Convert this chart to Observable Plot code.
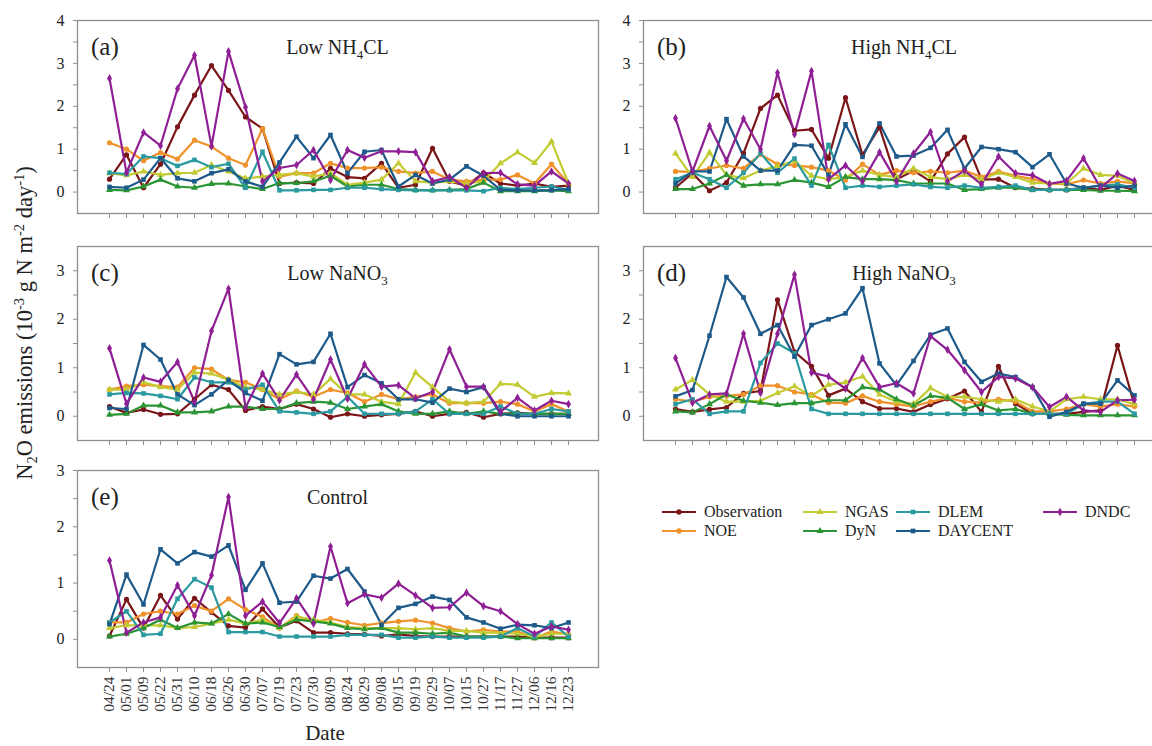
<!DOCTYPE html>
<html><head><meta charset="utf-8">
<script src="https://cdn.jsdelivr.net/npm/d3@7"></script>
<script src="https://cdn.jsdelivr.net/npm/@observablehq/plot@0.6"></script>
<style>
html,body{margin:0;padding:0;background:#fff;overflow:hidden;}
#chart{position:relative;width:1152px;height:746px;overflow:hidden;font-family:"Liberation Serif","Times New Roman",serif;}
#chart svg{position:absolute;}
</style></head><body><div id="chart"></div>
<script>
const dates = ["04/24","05/01","05/09","05/22","05/31","06/10","06/18","06/26","06/30","07/07","07/19","07/23","07/30","08/09","08/24","08/29","09/08","09/15","09/19","09/29","10/07","10/15","10/27","11/17","11/27","12/06","12/16","12/23"];
const seriesNames = ["Observation","NOE","NGAS","DyN","DLEM","DAYCENT","DNDC"];
const seriesColors = ["#7a1518","#f0922b","#c3cb32","#2b9534","#2a9aa0","#1d5a8a","#8f1f94"];
const seriesSymbols = ["circle","circle","triangle","triangle","square","square","diamond"];
const yTicksA = [0,1,2,3,4];
const yTicksC = [0,1,2,3];

const lowNH4CL = {
  Observation: [0.3,0.87,0.1,0.65,1.52,2.26,2.95,2.37,1.75,1.48,0.2,0.22,0.2,0.55,0.35,0.32,0.67,0.1,0.17,1.02,0.25,0.15,0.45,0.2,0.15,0.2,0.12,0.15],
  NOE: [1.15,1.0,0.73,0.92,0.77,1.21,1.06,0.79,0.63,1.48,0.36,0.44,0.44,0.67,0.56,0.56,0.58,0.48,0.44,0.48,0.29,0.25,0.29,0.29,0.4,0.2,0.65,0.2],
  NGAS: [0.44,0.39,0.48,0.4,0.44,0.45,0.63,0.48,0.32,0.36,0.4,0.44,0.36,0.44,0.17,0.22,0.29,0.67,0.25,0.22,0.25,0.2,0.25,0.67,0.93,0.68,1.18,0.2],
  DyN: [0.05,0.04,0.13,0.29,0.13,0.1,0.19,0.2,0.13,0.07,0.21,0.21,0.25,0.38,0.13,0.17,0.17,0.07,0.05,0.04,0.05,0.07,0.22,0.02,0.02,0.02,0.04,0.02],
  DLEM: [0.45,0.42,0.83,0.79,0.61,0.75,0.58,0.66,0.1,0.94,0.04,0.04,0.05,0.05,0.1,0.1,0.07,0.05,0.04,0.04,0.04,0.04,0.02,0.1,0.07,0.1,0.13,0.05],
  DAYCENT: [0.12,0.1,0.29,0.79,0.32,0.25,0.44,0.53,0.25,0.12,0.69,1.29,0.79,1.33,0.44,0.94,0.98,0.13,0.4,0.2,0.29,0.6,0.38,0.05,0.04,0.04,0.04,0.07],
  DNDC: [2.65,0.45,1.39,1.08,2.41,3.19,1.07,3.28,1.98,0.25,0.56,0.63,0.98,0.28,0.98,0.8,0.95,0.95,0.93,0.25,0.35,0.1,0.44,0.45,0.18,0.15,0.48,0.2]
};
const highNH4CL = {
  Observation: [0.1,0.44,0.03,0.22,0.9,1.95,2.26,1.43,1.46,0.79,2.2,0.87,1.51,0.29,0.5,0.25,0.89,1.28,0.29,0.3,0.1,0.08,0.05,0.05,0.1,0.05,0.15,0.05],
  NOE: [0.48,0.47,0.55,0.62,0.55,0.88,0.65,0.62,0.58,0.5,0.28,0.65,0.4,0.5,0.45,0.48,0.45,0.5,0.35,0.48,0.38,0.3,0.2,0.18,0.28,0.2,0.25,0.2],
  NGAS: [0.9,0.35,0.92,0.4,0.32,0.5,0.6,0.72,0.38,0.3,0.35,0.5,0.4,0.35,0.55,0.35,0.3,0.4,0.3,0.45,0.35,0.22,0.2,0.2,0.55,0.4,0.38,0.2],
  DyN: [0.07,0.07,0.2,0.4,0.15,0.18,0.18,0.28,0.22,0.12,0.35,0.3,0.3,0.28,0.2,0.2,0.2,0.05,0.07,0.1,0.1,0.05,0.05,0.05,0.05,0.03,0.03,0.02],
  DLEM: [0.3,0.45,0.3,0.1,0.45,0.9,0.45,0.78,0.15,1.1,0.1,0.15,0.12,0.15,0.18,0.12,0.1,0.15,0.1,0.12,0.15,0.05,0.05,0.05,0.1,0.15,0.18,0.1],
  DAYCENT: [0.2,0.48,0.48,1.7,0.83,0.5,0.5,1.1,1.08,0.4,1.58,0.82,1.6,0.83,0.85,1.03,1.45,0.55,1.05,1.0,0.93,0.58,0.88,0.2,0.1,0.15,0.1,0.15],
  DNDC: [1.72,0.48,1.54,0.73,1.71,1.0,2.78,1.35,2.82,0.3,0.62,0.25,0.93,0.25,0.9,1.4,0.25,0.5,0.18,0.83,0.44,0.39,0.19,0.26,0.79,0.1,0.43,0.26]
};
const lowNaNO3 = {
  Observation: [0.2,0.07,0.14,0.04,0.05,0.35,0.65,0.55,0.12,0.2,0.15,0.25,0.15,-0.02,0.05,0.0,0.03,0.05,0.1,0.0,0.05,0.08,-0.02,0.05,0.07,0.05,0.05,0.05],
  NOE: [0.55,0.62,0.65,0.62,0.6,1.0,0.97,0.75,0.7,0.55,0.35,0.52,0.4,0.55,0.48,0.3,0.45,0.35,0.4,0.45,0.27,0.27,0.27,0.3,0.25,0.1,0.25,0.1],
  NGAS: [0.55,0.55,0.7,0.6,0.55,0.9,0.88,0.75,0.6,0.55,0.45,0.5,0.45,0.77,0.45,0.45,0.3,0.25,0.9,0.6,0.3,0.27,0.3,0.67,0.65,0.4,0.48,0.47],
  DyN: [0.03,0.05,0.22,0.22,0.08,0.08,0.1,0.2,0.2,0.15,0.15,0.27,0.3,0.28,0.15,0.2,0.25,0.1,0.05,0.05,0.1,0.05,0.1,0.05,0.05,0.05,0.05,0.05],
  DLEM: [0.45,0.48,0.47,0.42,0.35,0.8,0.7,0.7,0.55,0.65,0.1,0.08,0.05,0.1,0.4,0.05,0.05,0.05,0.1,0.35,0.05,0.05,0.05,0.2,0.05,0.05,0.15,0.1],
  DAYCENT: [0.17,0.15,1.47,1.17,0.45,0.23,0.45,0.75,0.48,0.32,1.28,1.07,1.12,1.7,0.6,0.85,0.68,0.35,0.35,0.28,0.57,0.5,0.6,0.05,0.0,0.0,0.0,0.0],
  DNDC: [1.4,0.26,0.8,0.71,1.12,0.3,1.76,2.63,0.18,0.88,0.33,0.86,0.35,1.17,0.36,1.07,0.61,0.64,0.37,0.5,1.38,0.61,0.61,0.09,0.38,0.12,0.32,0.25]
};
const highNaNO3 = {
  Observation: [0.15,0.09,0.14,0.18,0.47,0.52,2.4,1.33,1.03,0.43,0.57,0.3,0.16,0.16,0.09,0.24,0.36,0.52,0.09,1.03,0.26,0.05,0.05,0.05,0.09,0.12,1.46,0.23],
  NOE: [0.35,0.3,0.4,0.42,0.45,0.63,0.63,0.5,0.45,0.28,0.27,0.42,0.3,0.25,0.2,0.3,0.38,0.3,0.28,0.35,0.3,0.1,0.1,0.15,0.25,0.2,0.25,0.2],
  NGAS: [0.55,0.75,0.45,0.3,0.3,0.32,0.48,0.62,0.42,0.65,0.7,0.82,0.45,0.3,0.25,0.58,0.4,0.4,0.35,0.3,0.35,0.2,0.1,0.35,0.4,0.35,0.35,0.25],
  DyN: [0.1,0.08,0.25,0.45,0.32,0.28,0.23,0.27,0.27,0.33,0.33,0.6,0.55,0.35,0.22,0.42,0.38,0.15,0.25,0.12,0.15,0.05,0.05,0.03,0.02,0.02,0.02,0.02],
  DLEM: [0.25,0.35,0.05,0.1,0.1,1.1,1.5,1.3,0.15,0.05,0.05,0.05,0.05,0.05,0.05,0.05,0.05,0.05,0.05,0.05,0.05,0.05,0.05,0.05,0.25,0.3,0.3,0.05],
  DAYCENT: [0.41,0.54,1.66,2.87,2.45,1.7,1.88,1.23,1.88,2.0,2.12,2.64,1.09,0.64,1.14,1.68,1.81,1.12,0.71,0.88,0.81,0.6,-0.01,0.09,0.26,0.26,0.74,0.43],
  DNDC: [1.2,0.28,0.45,0.47,1.7,0.48,1.7,2.92,0.9,0.82,0.57,1.2,0.6,0.68,0.47,1.65,1.37,0.95,0.5,0.81,0.78,0.6,0.19,0.4,0.12,0.09,0.33,0.34]
};
const control = {
  Observation: [0.06,0.71,0.2,0.78,0.36,0.73,0.48,0.24,0.21,0.54,0.21,0.33,0.12,0.12,0.1,0.09,0.06,0.09,0.06,0.05,0.05,0.05,0.05,0.05,0.05,0.03,0.03,0.03],
  NOE: [0.3,0.3,0.45,0.5,0.45,0.6,0.5,0.72,0.53,0.4,0.2,0.42,0.3,0.37,0.3,0.25,0.29,0.32,0.34,0.29,0.2,0.14,0.17,0.14,0.14,0.03,0.14,0.09],
  NGAS: [0.2,0.25,0.25,0.25,0.2,0.22,0.28,0.35,0.28,0.35,0.2,0.4,0.35,0.3,0.22,0.2,0.2,0.2,0.18,0.2,0.15,0.15,0.12,0.12,0.1,0.05,0.1,0.1],
  DyN: [0.05,0.1,0.2,0.35,0.2,0.3,0.28,0.45,0.28,0.3,0.22,0.35,0.32,0.28,0.2,0.18,0.2,0.12,0.12,0.1,0.12,0.05,0.05,0.05,0.02,0.02,0.02,0.02],
  DLEM: [0.3,0.5,0.08,0.1,0.72,1.07,0.92,0.13,0.13,0.13,0.05,0.05,0.05,0.05,0.08,0.08,0.08,0.03,0.03,0.05,0.03,0.03,0.03,0.05,0.2,0.05,0.3,0.05],
  DAYCENT: [0.27,1.15,0.62,1.6,1.35,1.55,1.47,1.67,0.88,1.35,0.65,0.67,1.13,1.08,1.25,0.85,0.26,0.56,0.63,0.76,0.7,0.39,0.3,0.19,0.26,0.25,0.2,0.3],
  DNDC: [1.4,0.12,0.3,0.39,0.96,0.42,1.14,2.53,0.42,0.67,0.29,0.73,0.28,1.65,0.64,0.8,0.74,0.99,0.78,0.56,0.57,0.83,0.59,0.5,0.27,0.1,0.23,0.17]
};

const FONT = '"Liberation Serif","Times New Roman",serif';
const panels = [
  {data: lowNH4CL,  letter: "(a)", title: ["Low NH","4","CL"],  x0: 77,  x1: 598,  y0: 20,  y1: 213, ydomain: [-0.5, 4],   yticks: yTicksA, showX: false},
  {data: highNH4CL, letter: "(b)", title: ["High NH","4","CL"], x0: 643, x1: 1165, y0: 20,  y1: 213, ydomain: [-0.5, 4],   yticks: yTicksA, showX: false},
  {data: lowNaNO3,  letter: "(c)", title: ["Low NaNO","3",""],  x0: 77,  x1: 598,  y0: 246, y1: 440, ydomain: [-0.5, 3.5], yticks: yTicksC, showX: false},
  {data: highNaNO3, letter: "(d)", title: ["High NaNO","3",""], x0: 643, x1: 1165, y0: 246, y1: 440, ydomain: [-0.5, 3.5], yticks: yTicksC, showX: false},
  {data: control,   letter: "(e)", title: ["Control","",""],    x0: 77,  x1: 598,  y0: 470, y1: 667, ydomain: [-0.5, 3],   yticks: yTicksC, showX: true}
];

const chart = document.getElementById("chart");

function rowsOf(obj) {
  return seriesNames.flatMap(s => obj[s].map((v, i) => ({date: dates[i], series: s, value: v})));
}

for (const p of panels) {
  const ML = 50, MR = 2, MT = 2, MB = p.showX ? 62 : 8;
  const fw = p.x1 - p.x0, fh = p.y1 - p.y0;
  const width = ML + fw + MR, height = MT + fh + MB;
  const rows = rowsOf(p.data);
  const half = [];
  for (let t = 0; t <= p.yticks[p.yticks.length - 1] + 1e-9; t += 0.5) half.push(t);
  const svg = Plot.plot({
    width, height,
    marginLeft: ML, marginRight: MR, marginTop: MT, marginBottom: MB,
    style: {background: "transparent", fontFamily: FONT, overflow: "visible"},
    x: {type: "point", domain: dates, padding: 0, range: [ML + 19, ML + fw - 18]},
    y: {domain: p.ydomain, range: [MT + fh, MT]},
    color: {domain: seriesNames, range: seriesColors},
    symbol: {domain: seriesNames, range: seriesSymbols},
    marks: [
      Plot.frame({stroke: "#8f8f8f", strokeWidth: 1.3}),
      Plot.axisY({ticks: half, tickSize: 4, tickPadding: 9, label: null,
        tickFormat: d => Number.isInteger(d) ? String(d) : "",
        stroke: "#8f8f8f", fill: "#222", fontSize: 16}),
      Plot.axisX({ticks: dates, tickSize: 5, tickPadding: 4, label: null,
        tickRotate: p.showX ? -90 : 0,
        tickFormat: p.showX ? (d => d) : (() => ""),
        stroke: "#8f8f8f", fill: "#333", fontSize: 15.5}),
      Plot.line(rows, {x: "date", y: "value", z: "series", stroke: "series", strokeWidth: 2.2}),
      Plot.dot(rows, {x: "date", y: "value", fill: "series", symbol: "series", r: 2.6})
    ]
  });
  svg.style.left = (p.x0 - ML) + "px";
  svg.style.top = (p.y0 - MT) + "px";
  chart.appendChild(svg);
}

// overlay text: panel letters, titles, axis titles, legend
const ov = d3.select(chart).append("svg")
  .attr("width", 1152).attr("height", 746)
  .style("left", "0px").style("top", "0px")
  .style("font-family", FONT);

for (const p of panels) {
  ov.append("text").attr("x", p.x0 + 14).attr("y", p.y0 + 35)
    .attr("font-size", 25).attr("fill", "#222").text(p.letter);
  const t = ov.append("text").attr("x", (p.x0 + p.x1) / 2).attr("y", p.y0 + 34)
    .attr("text-anchor", "middle").attr("font-size", 20).attr("fill", "#222");
  t.append("tspan").text(p.title[0]);
  if (p.title[1]) t.append("tspan").attr("font-size", 13).attr("dy", 5).text(p.title[1]);
  if (p.title[2]) t.append("tspan").attr("dy", -5).text(p.title[2]);
}

// y axis title
const yt = ov.append("text").attr("transform", "translate(32,323) rotate(-90)")
  .attr("text-anchor", "middle").attr("font-size", 22.5).attr("fill", "#222");
yt.append("tspan").text("N");
yt.append("tspan").attr("font-size", 14.5).attr("dy", 5).text("2");
yt.append("tspan").attr("dy", -5).text("O emissions (10");
yt.append("tspan").attr("font-size", 14.5).attr("dy", -8).text("-3");
yt.append("tspan").attr("dy", 8).text(" g N m");
yt.append("tspan").attr("font-size", 14.5).attr("dy", -8).text("-2");
yt.append("tspan").attr("dy", 8).text(" day");
yt.append("tspan").attr("font-size", 14.5).attr("dy", -8).text("-1");
yt.append("tspan").attr("dy", 8).text(")");

// x axis title
ov.append("text").attr("x", 325).attr("y", 740).attr("text-anchor", "middle")
  .attr("font-size", 21).attr("fill", "#222").text("Date");

// legend
const legendCols = [662, 803, 896, 1043];
const legendRows = [512, 531];
const legendPos = {Observation: [0,0], NGAS: [1,0], DLEM: [2,0], DNDC: [3,0], NOE: [0,1], DyN: [1,1], DAYCENT: [2,1]};
const symMap = {circle: d3.symbolCircle, square: d3.symbolSquare, triangle: d3.symbolTriangle, diamond: d3.symbolDiamond};
seriesNames.forEach((s, i) => {
  const [c, r] = legendPos[s];
  const x = legendCols[c], y = legendRows[r];
  ov.append("line").attr("x1", x).attr("x2", x + 34).attr("y1", y).attr("y2", y)
    .attr("stroke", seriesColors[i]).attr("stroke-width", 2.2);
  ov.append("path").attr("transform", `translate(${x + 17},${y})`)
    .attr("d", d3.symbol(symMap[seriesSymbols[i]], 22)()).attr("fill", seriesColors[i]);
  ov.append("text").attr("x", x + 42).attr("y", y + 5).attr("font-size", 16)
    .attr("fill", "#222").text(s);
});
</script>
</body></html>
